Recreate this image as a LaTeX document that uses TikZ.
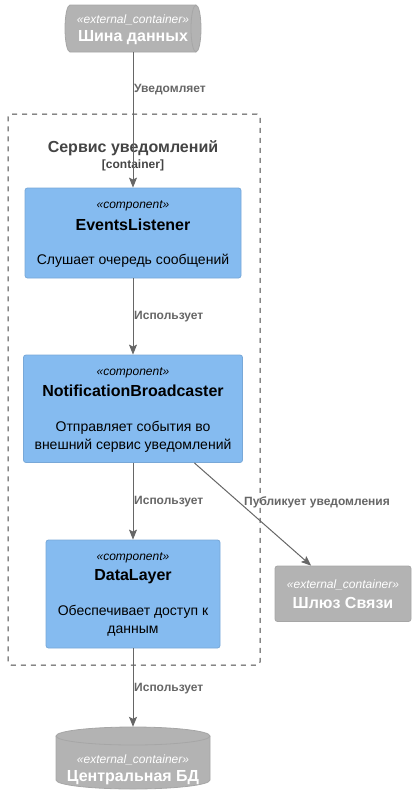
\documentclass[tikz,border=0pt]{standalone}
\usepackage{fontspec}
\setmainfont{Liberation Sans}
\usetikzlibrary{arrows.meta}
\definecolor{comp}{HTML}{85BBF0}
\definecolor{compb}{HTML}{78A8D8}
\definecolor{ext}{HTML}{B3B3B3}
\definecolor{extb}{HTML}{A6A6A6}
\definecolor{rel}{HTML}{666666}
\definecolor{bnd}{HTML}{444444}
\tikzset{
  compbox/.style={draw=compb, fill=comp, rounded corners=2.5pt, line width=0.8pt, inner sep=0pt},
  extbox/.style={draw=extb, fill=ext, rounded corners=2.5pt, line width=0.8pt, inner sep=0pt},
  ghost/.style={inner sep=0pt, draw=none},
  ster/.style={inner sep=0pt, font=\fontsize{12}{14}\selectfont\itshape},
  cname/.style={inner sep=0pt, font=\fontsize{16}{19}\selectfont\bfseries},
  cdesc/.style={inner sep=0pt, align=center, font=\fontsize{14}{18}\selectfont},
  wster/.style={ster, text=white},
  wname/.style={cname, text=white},
  rlabel/.style={inner sep=0pt, anchor=west, text=rel, font=\fontsize{12}{14}\selectfont\bfseries},
  rel/.style={draw=rel, line width=1pt, -{Stealth[length=10pt,width=8pt,inset=2pt]}},
}
\begin{document}
\begin{tikzpicture}[x=1pt,y=-1pt]
\useasboundingbox (0,0) rectangle (416,807);
% boundary
\node[ghost, draw=bnd, dashed, dash pattern=on 5pt off 5pt, line width=1pt, rounded corners=3pt,
      minimum width=252, minimum height=551] (svc) at (134,389.5) {};
\node[cname, text=bnd] (svc-t) at (133,148) {Сервис уведомлений};
\node[inner sep=0pt, text=bnd, font=\fontsize{12}{14}\selectfont\bfseries] (svc-c) at (133,165) {[container]};

% queue (bus)
\node[ghost, minimum width=136, minimum height=47] (bus) at (133,28.5) {};
\fill[ext, draw=extb, line width=0.8pt]
  (70,5) -- (196,5) arc[start angle=90, end angle=-90, x radius=5pt, y radius=23.5pt]
  -- (70,52) arc[start angle=270, end angle=90, x radius=5pt, y radius=23.5pt] -- cycle;
\draw[extb, line width=0.8pt] (196,5) arc[start angle=90, end angle=270, x radius=5pt, y radius=23.5pt];
\node[wster] (bus-s) at (133,20) {«external\_container»};
\node[wname] (bus-n) at (133,38) {Шина данных};

% components
\node[compbox, minimum width=216, minimum height=90] (el) at (133,233) {};
\node[ster] (el-s) at (133,206) {«component»};
\node[cname] (el-n) at (133,225) {EventsListener};
\node[cdesc] (el-d) at (133,261) {Слушает очередь сообщений};

\node[compbox, minimum width=219, minimum height=107.5] (nb) at (133,408.75) {};
\node[ster] (nb-s) at (133,373) {«component»};
\node[cname] (nb-n) at (133,391) {NotificationBroadcaster};
\node[cdesc] (nb-d) at (133,437) {Отправляет события во\\внешний сервис уведомлений};

\node[compbox, minimum width=174, minimum height=108] (dl) at (133,594) {};
\node[ster] (dl-s) at (133,558) {«component»};
\node[cname] (dl-n) at (133,577) {DataLayer};
\node[cdesc] (dl-d) at (133,621) {Обеспечивает доступ к\\данным};

% gateway
\node[extbox, minimum width=136, minimum height=55.5] (gw) at (343,593.75) {};
\node[wster] (gw-s) at (343,585) {«external\_container»};
\node[wname] (gw-n) at (343,603) {Шлюз Связи};

% database
\node[ghost, minimum width=154, minimum height=62] (db) at (133,758) {};
\fill[ext, draw=extb, line width=0.8pt]
  (56,736) -- (56,780) arc[start angle=180, end angle=360, x radius=77pt, y radius=9pt]
  -- (210,736) arc[start angle=0, end angle=180, x radius=77pt, y radius=9pt] -- cycle;
\draw[extb, line width=0.8pt] (56,736) arc[start angle=180, end angle=360, x radius=77pt, y radius=9pt];
\node[wster] (db-s) at (133,760) {«external\_container»};
\node[wname] (db-n) at (133,778) {Центральная БД};

% relations
\draw[rel] (bus) -- (el);
\node[rlabel] (l1) at (134,90) {Уведомляет};
\draw[rel] (el) -- (nb);
\node[rlabel] (l2) at (134,317) {Использует};
\draw[rel] (nb) -- (dl);
\node[rlabel] (l3) at (134,502) {Использует};
\draw[rel] (nb) -- (gw);
\node[rlabel] (l4) at (244,502) {Публикует уведомления};
\draw[rel] (dl) -- (db);
\node[rlabel] (l5) at (134,689) {Использует};
\end{tikzpicture}
\end{document}
